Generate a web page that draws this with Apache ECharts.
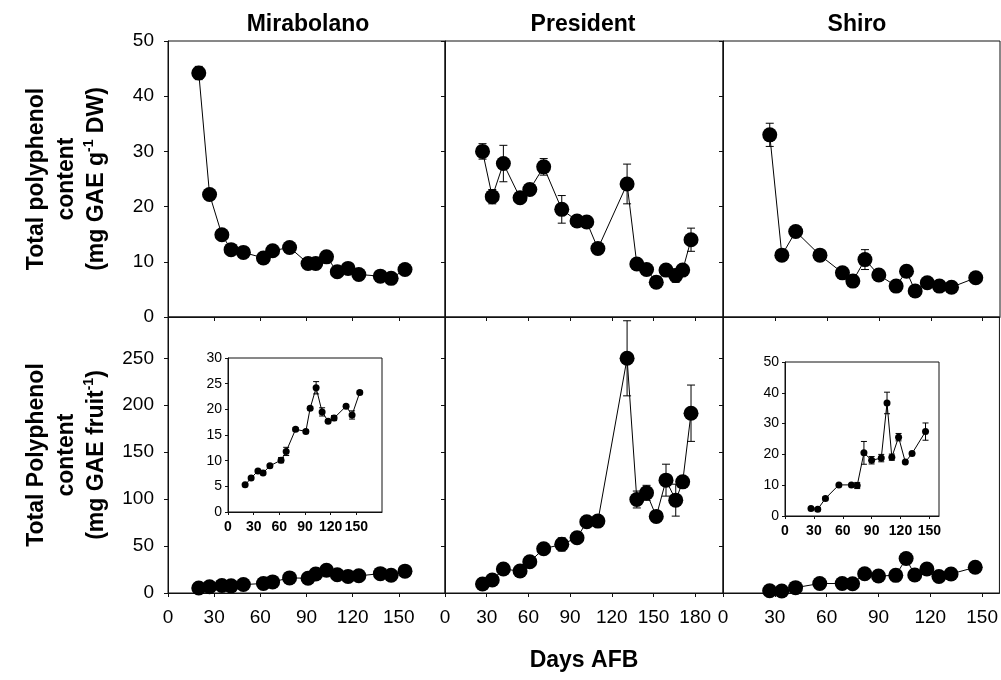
<!DOCTYPE html>
<html>
<head>
<meta charset="utf-8">
<script src="https://cdn.jsdelivr.net/npm/echarts@6/dist/echarts.min.js"></script>
<style>
  html, body { margin: 0; padding: 0; background: #fff; }
  #main { width: 1001px; height: 680px; }
</style>
</head>
<body>
<div id="main"></div>
<script>
// ---- data ----
const mirDays = [20, 27, 35, 41, 49, 62, 68, 79, 91, 96, 103, 110, 117, 124, 138, 145, 154];
const mirDW = [44.2, 22.2, 14.9, 12.2, 11.7, 10.7, 12.0, 12.6, 9.7, 9.7, 10.9, 8.2, 8.8, 7.7, 7.4, 7.0, 8.6];
const mirDWErr = [1.2, 0, 0, 0, 0, 0, 0, 0, 0, 0, 0, 0, 0, 0, 0, 0, 0];
const mirFruit = [5.3, 6.6, 8.0, 7.6, 9.0, 10.1, 11.8, 16.1, 15.7, 20.2, 24.2, 19.5, 17.7, 18.3, 20.6, 18.9, 23.3];
const mirFruitErr = [0.2, 0.2, 0.3, 0.3, 0.3, 0.5, 0.8, 0.3, 0.3, 0.3, 1.2, 0.8, 0.3, 0.5, 0.3, 0.8, 0.3];

const presDays = [27, 34, 42, 54, 61, 71, 84, 95, 102, 110, 131, 138, 145, 152, 159, 166, 171, 177];
const presDW = [30.0, 21.8, 27.8, 21.6, 23.1, 27.2, 19.5, 17.4, 17.2, 12.4, 24.1, 9.6, 8.6, 6.3, 8.5, 7.5, 8.5, 14.0];
const presDWErr = [1.4, 1.3, 3.3, 0, 0, 1.5, 2.5, 0, 0, 0, 3.6, 0, 0, 0, 0, 1.2, 0, 2.1];
const presFruit = [9.6, 13.8, 25.5, 23.4, 33.3, 47.1, 51.8, 58.9, 75.9, 76.6, 250, 99.6, 106.7, 81.6, 120.2, 98.9, 118.4, 191.5];
const presFruitErr = [0, 0, 0, 0, 0, 0, 7, 0, 0, 0, 40, 9, 8, 0, 17, 17, 0, 30];

const shiDays = [27, 34, 42, 56, 69, 75, 82, 90, 100, 106, 111, 118, 125, 132, 146];
const shiDW = [33.0, 11.2, 15.5, 11.2, 8.0, 6.5, 10.4, 7.6, 5.6, 8.3, 4.7, 6.2, 5.6, 5.4, 7.1];
const shiDWErr = [2.1, 0, 0, 0, 0, 0, 1.8, 0, 0, 0, 0, 0, 0, 0, 0];
const shiFruit = [2.4, 2.2, 5.7, 10.1, 10.1, 9.9, 20.5, 18.1, 18.8, 36.7, 19.1, 25.6, 17.5, 20.3, 27.4];
const shiFruitErr = [0, 0.5, 0.5, 0, 0, 1, 3.7, 1.2, 1.2, 3.5, 1, 1.2, 0, 0, 2.8];

const cultivars = ['Mirabolano', 'President', 'Shiro'];
const dwTicks = [0, 10, 20, 30, 40, 50];
const fruitTicks = [0, 50, 100, 150, 200, 250];
const xTicksMir = [0, 30, 60, 90, 120, 150];
const xTicksPres = [0, 30, 60, 90, 120, 150, 180];
const xTicksShi = [0, 30, 60, 90, 120, 150];
const insetMirY = [0, 5, 10, 15, 20, 25, 30];
const insetShiY = [0, 10, 20, 30, 40, 50];
// --------------------------------

const FONT = 'Liberation Sans, Arial, sans-serif';
const chart = echarts.init(document.getElementById('main'));

const grids = [
  {left: 168, top: 41, width: 277, height: 276},
  {left: 445, top: 41, width: 278, height: 276},
  {left: 723, top: 41, width: 277, height: 276},
  {left: 168, top: 317, width: 277, height: 276},
  {left: 445, top: 317, width: 278, height: 276},
  {left: 723, top: 317, width: 277, height: 276},
  {left: 228, top: 358, width: 154, height: 154},
  {left: 785, top: 362, width: 154, height: 154}
].map(g => Object.assign({show: true, borderColor: '#111', borderWidth: 1, backgroundColor: 'transparent'}, g));

function xAx(grid, max, labels, ticks, showLabels, inset) {
  return {
    type: 'value', gridIndex: grid, min: 0, max: max, interval: 30,
    splitLine: {show: false},
    axisLine: {show: true, onZero: false, lineStyle: {color: '#111', width: 1}},
    axisTick: {show: true, length: inset ? 3 : 4, customValues: ticks, lineStyle: {color: '#111'}},
    axisLabel: {
      show: showLabels, customValues: labels, color: '#000', fontFamily: FONT,
      fontSize: inset ? 14 : 19, fontWeight: inset ? 'bold' : 'normal', margin: inset ? 8 : 15
    }
  };
}
function yAx(grid, max, interval, labels, showLabels, inset, name) {
  const ax = {
    type: 'value', gridIndex: grid, min: 0, max: max, interval: interval,
    splitLine: {show: false},
    axisLine: {show: true, onZero: false, lineStyle: {color: '#111', width: 1}},
    axisTick: {show: true, length: inset ? 3 : 4, customValues: labels, lineStyle: {color: '#111'}},
    axisLabel: {
      show: showLabels, customValues: labels, color: '#000', fontFamily: FONT,
      fontSize: inset ? 14 : 19, margin: inset ? 6 : 14
    }
  };
  if (name) {
    ax.name = name;
    ax.nameLocation = 'middle';
    ax.nameRotate = 90;
    ax.nameGap = 56;
    ax.nameTextStyle = {
      align: 'center',
      rich: {
        a: {fontSize: 23, fontWeight: 'bold', fontFamily: FONT, color: '#000', lineHeight: 30},
        s: {fontSize: 14, fontWeight: 'bold', fontFamily: FONT, color: '#000', lineHeight: 30, verticalAlign: 'top', padding: [0, 0, 11, 0]}
      }
    };
  }
  return ax;
}

const xAxes = [
  xAx(0, 180, xTicksMir, [0, 30, 60, 90, 120, 150, 180], false),
  xAx(1, 200, xTicksPres, xTicksPres, false),
  xAx(2, 160, xTicksShi, xTicksShi, false),
  xAx(3, 180, xTicksMir, [0, 30, 60, 90, 120, 150, 180], true),
  xAx(4, 200, xTicksPres, xTicksPres, true),
  xAx(5, 160, xTicksShi, xTicksShi, true),
  xAx(6, 180, xTicksMir, xTicksMir, true, true),
  xAx(7, 160, xTicksShi, xTicksShi, true, true)
];
const yAxes = [
  yAx(0, 50, 10, dwTicks, true, false, '{a|Total polyphenol}\n{a|content}\n{a|(mg GAE g}{s|-1}{a| DW)}'),
  yAx(1, 50, 10, dwTicks, false),
  yAx(2, 50, 10, dwTicks, false),
  yAx(3, 294, 50, fruitTicks, true, false, '{a|Total Polyphenol}\n{a|content}\n{a|(mg GAE fruit}{s|-1}{a|)}'),
  yAx(4, 294, 50, fruitTicks, false),
  yAx(5, 294, 50, fruitTicks, false),
  yAx(6, 30, 5, insetMirY, true, true),
  yAx(7, 50, 10, insetShiY, true, true)
];

function zip(xs, ys, es) {
  return xs.map((x, i) => es ? [x, ys[i], es[i]] : [x, ys[i]]);
}
function lineSeries(idx, xs, ys, size) {
  return {
    type: 'line', xAxisIndex: idx, yAxisIndex: idx, data: zip(xs, ys),
    symbol: 'circle', symbolSize: size, showSymbol: true, z: 3,
    itemStyle: {color: '#000'}, lineStyle: {color: '#000', width: 1},
    animation: false
  };
}
function errSeries(idx, xs, ys, es, cap) {
  return {
    type: 'custom', xAxisIndex: idx, yAxisIndex: idx, data: zip(xs, ys, es), z: 2,
    animation: false,
    renderItem: function (params, api) {
      const e = api.value(2);
      if (!e) return null;
      const x = api.value(0), y = api.value(1);
      const hi = api.coord([x, y + e]);
      const lo = api.coord([x, y - e]);
      const st = {stroke: '#000', lineWidth: 1};
      return {
        type: 'group',
        children: [
          {type: 'line', shape: {x1: hi[0], y1: hi[1], x2: lo[0], y2: lo[1]}, style: st},
          {type: 'line', shape: {x1: hi[0] - cap, y1: hi[1], x2: hi[0] + cap, y2: hi[1]}, style: st},
          {type: 'line', shape: {x1: lo[0] - cap, y1: lo[1], x2: lo[0] + cap, y2: lo[1]}, style: st}
        ]
      };
    }
  };
}

const series = [
  errSeries(0, mirDays, mirDW, mirDWErr, 4), lineSeries(0, mirDays, mirDW, 15),
  errSeries(1, presDays, presDW, presDWErr, 4), lineSeries(1, presDays, presDW, 15),
  errSeries(2, shiDays, shiDW, shiDWErr, 4), lineSeries(2, shiDays, shiDW, 15),
  lineSeries(3, mirDays, mirFruit, 15),
  errSeries(4, presDays, presFruit, presFruitErr, 4), lineSeries(4, presDays, presFruit, 15),
  lineSeries(5, shiDays, shiFruit, 15),
  errSeries(6, mirDays, mirFruit, mirFruitErr, 3), lineSeries(6, mirDays, mirFruit, 7),
  errSeries(7, shiDays, shiFruit, shiFruitErr, 3), lineSeries(7, shiDays, shiFruit, 7)
];

const titleX = [308, 583, 857];
const graphics = cultivars.map((c, i) => ({
  type: 'text', x: titleX[i], y: 25,
  style: {text: c, font: 'bold 23px ' + FONT, fill: '#000', textAlign: 'center', textVerticalAlign: 'middle'}
}));
graphics.push({
  type: 'text', x: 584, y: 661,
  style: {text: 'Days AFB', font: 'bold 23px ' + FONT, fill: '#000', textAlign: 'center', textVerticalAlign: 'middle'}
});

chart.setOption({
  animation: false,
  grid: grids,
  xAxis: xAxes,
  yAxis: yAxes,
  series: series,
  graphic: graphics
});
</script>
</body>
</html>
